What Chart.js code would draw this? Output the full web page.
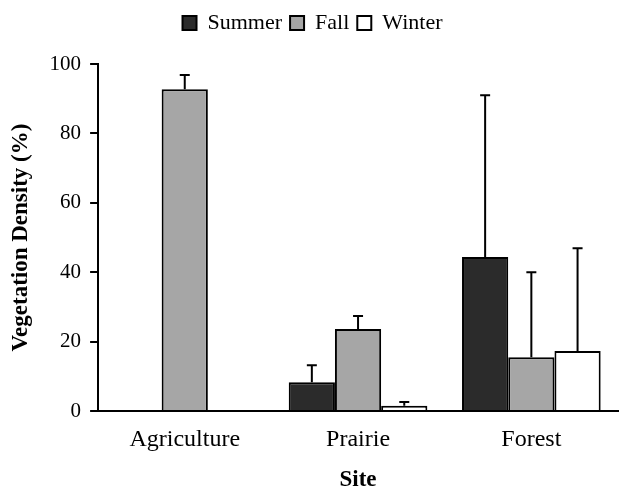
<!DOCTYPE html>
<html>
<head>
<meta charset="utf-8">
<script src="https://cdn.jsdelivr.net/npm/chart.js@4/dist/chart.umd.min.js"></script>
<style>
html,body{margin:0;padding:0;background:#fff;}
#wrap{width:620px;height:492px;}
</style>
</head>
<body>
<div id="wrap"><canvas id="c" width="620" height="492"></canvas></div>
<script>
const sites = ["Agriculture", "Prairie", "Forest"];
const seriesNames = ["Summer", "Fall", "Winter"];
const summer = [0, 8.3, 44.4];
const fall = [92.7, 23.6, 15.5];
const winter = [0, 1.5, 17.3];
const summerErr = [0, 4.9, 46.6];
const fallErr = [4.1, 3.8, 24.5];
const winterErr = [0, 1.1, 29.6];
const yTicks = [0, 20, 40, 60, 80, 100];

const FONT = "'Liberation Serif', 'Times New Roman', serif";

const errorBars = {
  id: 'errorBars',
  afterDatasetsDraw(chart) {
    const ctx = chart.ctx;
    const ys = chart.scales.y;
    ctx.save();
    ctx.strokeStyle = '#000';
    ctx.lineWidth = 2;
    chart.data.datasets.forEach((ds, i) => {
      const meta = chart.getDatasetMeta(i);
      meta.data.forEach((bar, j) => {
        const e = ds.errors[j];
        if (!e) return;
        const v = ds.data[j];
        const yTop = ys.getPixelForValue(v + e);
        ctx.beginPath();
        ctx.moveTo(bar.x, bar.y);
        ctx.lineTo(bar.x, yTop);
        ctx.moveTo(bar.x - 5, yTop);
        ctx.lineTo(bar.x + 5, yTop);
        ctx.stroke();
      });
    });
    ctx.restore();
  }
};

const legendSpace = {
  id: 'legendSpace',
  beforeLayout(chart) {
    const lg = chart.legend;
    if (lg && !lg._spaced) {
      const f = lg.fit.bind(lg);
      lg.fit = function () { f(); this.height += 20; };
      lg._spaced = true;
    }
  }
};

new Chart(document.getElementById('c'), {
  type: 'bar',
  data: {
    labels: sites,
    datasets: [
      {label: seriesNames[0], data: summer, errors: summerErr, backgroundColor: '#2b2b2b', borderColor: '#000', borderWidth: 2},
      {label: seriesNames[1], data: fall, errors: fallErr, backgroundColor: '#a6a6a6', borderColor: '#000', borderWidth: 2},
      {label: seriesNames[2], data: winter, errors: winterErr, backgroundColor: '#ffffff', borderColor: '#000', borderWidth: 2}
    ]
  },
  options: {
    responsive: false,
    animation: false,
    devicePixelRatio: 1,
    layout: {padding: {left: 7, right: 2, top: 4, bottom: 0}},
    datasets: {bar: {categoryPercentage: 0.8, barPercentage: 1.0}},
    plugins: {
      tooltip: {enabled: false},
      legend: {
        position: 'top',
        labels: {
          boxWidth: 14, boxHeight: 14, padding: 8,
          color: '#000',
          font: {family: FONT, size: 22}
        }
      }
    },
    scales: {
      x: {
        grid: {display: false, drawTicks: false},
        border: {display: true, color: '#000', width: 2},
        ticks: {color: '#000', padding: 17, font: {family: FONT, size: 24, lineHeight: 1.0}},
        title: {display: true, text: 'Site', color: '#000', padding: {top: 0, bottom: 0}, font: {family: FONT, size: 23, weight: 'bold', lineHeight: 1.0}}
      },
      y: {
        min: 0, max: 100,
        afterBuildTicks(axis) { axis.ticks = yTicks.map(v => ({value: v})); },
        grid: {drawOnChartArea: false, drawTicks: true, tickLength: 8, color: '#000', lineWidth: 2},
        border: {display: true, color: '#000', width: 2},
        ticks: {color: '#000', padding: 9, font: {family: FONT, size: 21}},
        title: {display: true, text: 'Vegetation Density (%)', color: '#000', padding: {top: 0, bottom: 6}, font: {family: FONT, size: 23, weight: 'bold'}}
      }
    }
  },
  plugins: [errorBars, legendSpace]
});
</script>
</body>
</html>
